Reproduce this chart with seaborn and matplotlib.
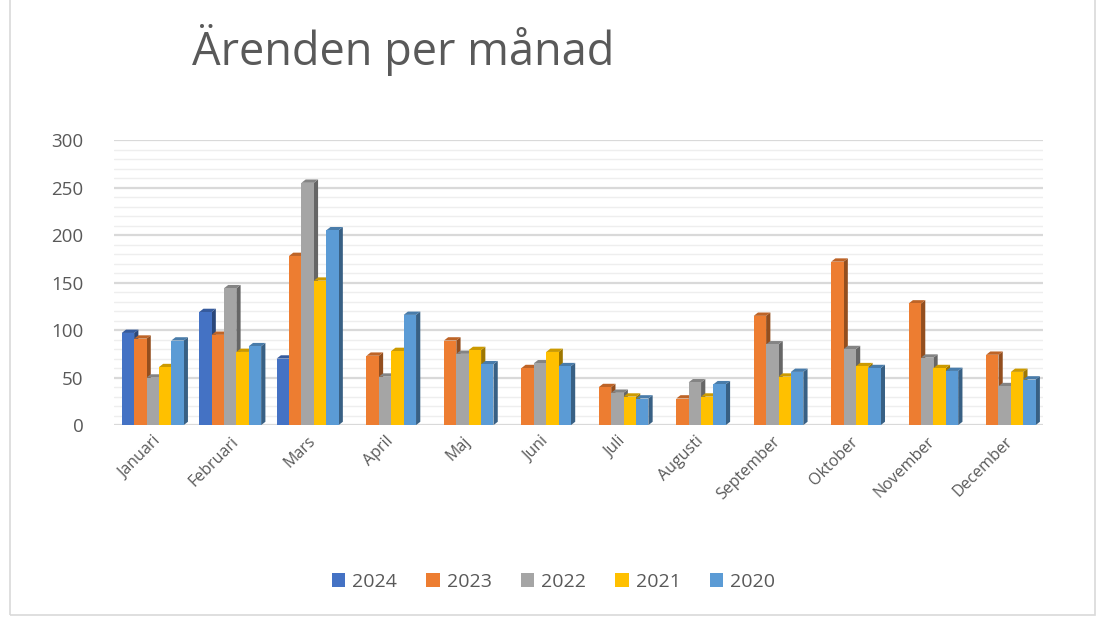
import pandas as pd
import numpy as np
import seaborn as sns
import matplotlib.pyplot as plt
from matplotlib.patches import Polygon, Patch, Rectangle
import matplotlib.colors as mcolors

months = ['Januari', 'Februari', 'Mars', 'April', 'Maj', 'Juni', 'Juli',
          'Augusti', 'September', 'Oktober', 'November', 'December']
years = ['2024', '2023', '2022', '2021', '2020']
colors = ['#4472C4', '#ED7D31', '#A5A5A5', '#FFC000', '#5B9BD5']

v2024 = [97, 119, 70, np.nan, np.nan, np.nan, np.nan, np.nan, np.nan, np.nan, np.nan, np.nan]
v2023 = [91, 95, 178, 73, 89, 60, 40, 28, 115, 172, 128, 74]
v2022 = [50, 144, 255, 51, 75, 65, 34, 45, 85, 80, 71, 41]
v2021 = [61, 77, 152, 78, 79, 77, 30, 30, 51, 62, 60, 56]
v2020 = [89, 83, 205, 116, 64, 62, 28, 43, 56, 60, 57, 48]

def load_data():
    rows = []
    for year, vals in zip(years, [v2024, v2023, v2022, v2021, v2020]):
        for m, v in zip(months, vals):
            rows.append({'month': m, 'year': year, 'value': v})
    return pd.DataFrame(rows)

df = load_data()

sns.set_style('white')
plt.rcParams['font.family'] = ['Open Sans', 'DejaVu Sans']

fig = plt.figure(figsize=(10.96, 6.17), dpi=100)
ax = fig.add_axes([0.104, 0.311, 0.848, 0.462])

sns.barplot(data=df, x='month', y='value', hue='year', order=months,
            hue_order=years, palette=colors, width=0.8, saturation=1,
            errorbar=None, legend=False, ax=ax)

# fake 3D: dark side and top face for each bar
dx, dy = 0.055, 3.5
for i, container in enumerate(ax.containers):
    base = mcolors.to_rgb(colors[i])
    dark = tuple(c * 0.62 for c in base)
    mid = tuple(c * 0.8 for c in base)
    for bar in container:
        h = bar.get_height()
        if not np.isfinite(h) or h == 0:
            continue
        x, w = bar.get_x(), bar.get_width()
        z = 2 + i * 0.1
        bar.set_zorder(z + 0.05)
        bar.set_edgecolor('none')
        ax.add_patch(Polygon([(x + w, 0), (x + w + dx, dy), (x + w + dx, h + dy), (x + w, h)],
                             closed=True, facecolor=dark, edgecolor='none', zorder=z))
        ax.add_patch(Polygon([(x, h), (x + dx, h + dy), (x + w + dx, h + dy), (x + w, h)],
                             closed=True, facecolor=mid, edgecolor='none', zorder=z))

ax.set_ylim(0, 300)
ax.set_xlim(-0.5, 11.5)
ax.set_yticks(range(0, 301, 50))
ax.set_yticks(range(0, 301, 10), minor=True)
ax.grid(axis='y', which='major', color='#d9d9d9', lw=1.6, zorder=0)
ax.grid(axis='y', which='minor', color='#eeeeee', lw=1.0, zorder=0)
ax.set_axisbelow(True)
for s in ax.spines.values():
    s.set_visible(False)
ax.tick_params(axis='both', which='both', length=0)
ax.tick_params(axis='y', pad=22, labelsize=13.5, labelcolor='#595959')
ax.tick_params(axis='x', pad=6, labelsize=11.5, labelcolor='#595959')
ax.set_xlabel('')
ax.set_ylabel('')
for lab in ax.get_xticklabels():
    lab.set_rotation(45)
    lab.set_ha('right')
    lab.set_va('top')
    lab.set_rotation_mode('anchor')

fig.text(0.175, 0.895, 'Ärenden per månad', fontsize=32.5, color='#595959',
         ha='left', va='baseline')

handles = [Patch(facecolor=c, edgecolor='none', label=y) for c, y in zip(colors, years)]
fig.legend(handles=handles, loc='center', bbox_to_anchor=(0.505, 0.057), ncol=5,
           frameon=False, fontsize=14, labelcolor='#595959', handlelength=0.7,
           handleheight=0.7, handletextpad=0.35, columnspacing=1.5)

fig.add_artist(Rectangle((0.009, 0.003), 0.99, 1.1, transform=fig.transFigure,
                         fill=False, edgecolor='#d9d9d9', lw=1.2))

fig.savefig('out.png', dpi=100)
